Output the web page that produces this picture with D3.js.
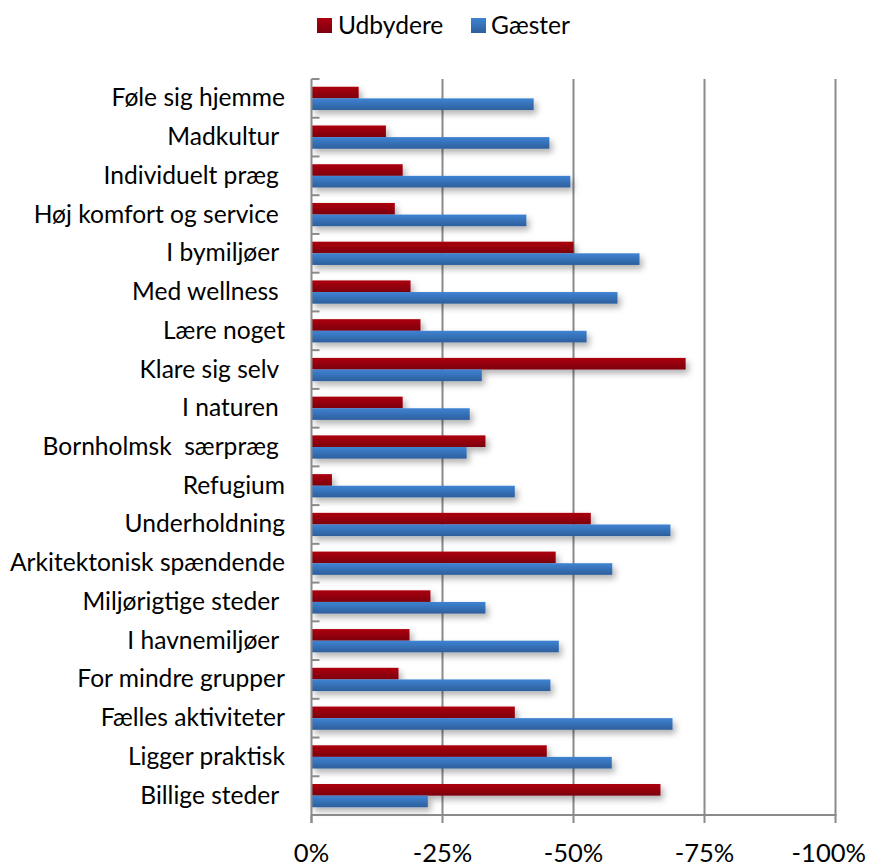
<!DOCTYPE html>
<html>
<head>
<meta charset="utf-8">
<script src="https://cdn.jsdelivr.net/npm/d3@7"></script>
<style>
  html, body { margin: 0; padding: 0; background: #fff; }
  svg { display: block; }
  text { font-family: Lato, "Open Sans", sans-serif; fill: #000; white-space: pre; }
</style>
</head>
<body>
<svg id="chart" width="870" height="868"></svg>
<script>
const categories = [
  "Føle sig hjemme", "Madkultur ", "Individuelt præg ", "Høj komfort og service ",
  "I bymiljøer ", "Med wellness ", "Lære noget", "Klare sig selv ", "I naturen ",
  "Bornholmsk  særpræg ", "Refugium", "Underholdning", "Arkitektonisk spændende",
  "Miljørigtige steder ", "I havnemiljøer ", "For mindre grupper", "Fælles aktiviteter",
  "Ligger praktisk", "Billige steder "
];
const seriesNames = ["Udbydere", "Gæster"];
const udbydere = [-9.0, -14.2, -17.4, -15.9, -50.0, -18.9, -20.8, -71.4, -17.4, -33.2,
                  -3.9, -53.3, -46.6, -22.7, -18.7, -16.6, -38.8, -44.9, -66.6];
const gaester  = [-42.4, -45.4, -49.4, -41.0, -62.6, -58.4, -52.5, -32.5, -30.2, -29.6,
                  -38.8, -68.5, -57.4, -33.2, -47.2, -45.6, -68.9, -57.3, -22.2];
const tickValues = [0, -25, -50, -75, -100];
const tickLabels = ["0%", "-25%", "-50%", "-75%", "-100%"];

(function () {
const svg = d3.select("#chart");
const pL = 311.5, pR = 835.5, pT = 79, pB = 815;

const x = d3.scaleLinear().domain([0, -100]).range([pL, pR]);
const y = d3.scaleBand().domain(categories).range([pT, pB]).paddingInner(0.4).paddingOuter(0.2);
const ys = d3.scaleBand().domain(seriesNames).range([0, y.bandwidth()]);

// measure font scale so the longest label matches the reference width
const probe = svg.append("text").style("font-size", "22px").text("Arkitektonisk spændende");
const k = 275 / probe.node().getComputedTextLength();
probe.remove();
const fs = 22 * k;

const defs = svg.append("defs");
function grad(id, c1, c2) {
  const g = defs.append("linearGradient").attr("id", id).attr("x1", 0).attr("y1", 0).attr("x2", 0).attr("y2", 1);
  g.append("stop").attr("offset", "0%").attr("stop-color", c1);
  g.append("stop").attr("offset", "100%").attr("stop-color", c2);
}
grad("gRed", "#ad0010", "#7c000f");
grad("gBlue", "#3f83d3", "#2d5f9c");
const f = defs.append("filter").attr("id", "shadow").attr("x", "-10%").attr("y", "-50%").attr("width", "130%").attr("height", "250%");
f.append("feDropShadow").attr("dx", 3).attr("dy", 4).attr("stdDeviation", 3)
  .attr("flood-color", "#000").attr("flood-opacity", 0.3);

const gridColor = "#8a8a8a";

svg.append("g").selectAll("line").data(tickValues.slice(1)).join("line")
  .attr("x1", d => x(d)).attr("x2", d => x(d))
  .attr("y1", pT).attr("y2", pB)
  .attr("stroke", gridColor).attr("stroke-width", 2);

const fills = { "Udbydere": "url(#gRed)", "Gæster": "url(#gBlue)" };
const rows = categories.map((c, i) => ({ c, vals: [
  { s: "Udbydere", v: udbydere[i] }, { s: "Gæster", v: gaester[i] }] }));
const gb = svg.append("g").attr("filter", "url(#shadow)");
rows.forEach(r => {
  gb.selectAll(null).data(r.vals).join("rect")
    .attr("x", x(0))
    .attr("y", d => y(r.c) + ys(d.s))
    .attr("width", d => x(d.v) - x(0))
    .attr("height", ys.bandwidth())
    .attr("fill", d => fills[d.s]);
});

svg.append("line").attr("x1", pL).attr("x2", pL).attr("y1", pT).attr("y2", pB + 8)
  .attr("stroke", gridColor).attr("stroke-width", 2);
svg.append("line").attr("x1", pL).attr("x2", pR + 1).attr("y1", pB).attr("y2", pB)
  .attr("stroke", gridColor).attr("stroke-width", 2);

const boundaries = d3.range(categories.length + 1).map(i => pT + i * y.step());
svg.append("g").selectAll("line").data(boundaries).join("line")
  .attr("x1", pL).attr("x2", pL + 8)
  .attr("y1", d => d).attr("y2", d => d)
  .attr("stroke", gridColor).attr("stroke-width", 2);

svg.append("g").selectAll("line").data(tickValues).join("line")
  .attr("x1", d => x(d)).attr("x2", d => x(d))
  .attr("y1", pB).attr("y2", pB + 8)
  .attr("stroke", gridColor).attr("stroke-width", 2);

svg.append("g").selectAll("text").data(tickValues).join("text")
  .attr("x", (d, i) => i === tickValues.length - 1 ? 866 : x(d))
  .attr("y", 862)
  .attr("text-anchor", (d, i) => i === tickValues.length - 1 ? "end" : "middle")
  .style("font-size", (fs * 1.04) + "px")
  .text((d, i) => tickLabels[i]);

svg.append("g").selectAll("text").data(categories).join("text")
  .attr("x", 285)
  .attr("y", d => y(d) + y.bandwidth() / 2 + 8)
  .attr("text-anchor", "end")
  .attr("xml:space", "preserve")
  .style("font-size", fs + "px")
  .text(d => d);

const lg = svg.append("g");
const legendItems = [
  { s: "Udbydere", sx: 317, tx: 338, fill: "url(#gRed)" },
  { s: "Gæster", sx: 471, tx: 491, fill: "url(#gBlue)" }
];
legendItems.forEach(it => {
  lg.append("rect").attr("x", it.sx).attr("y", 18).attr("width", 15).attr("height", 15).attr("fill", it.fill);
  lg.append("text").attr("x", it.tx).attr("y", 34).style("font-size", fs + "px").text(it.s);
});
})();
</script>
</body>
</html>
